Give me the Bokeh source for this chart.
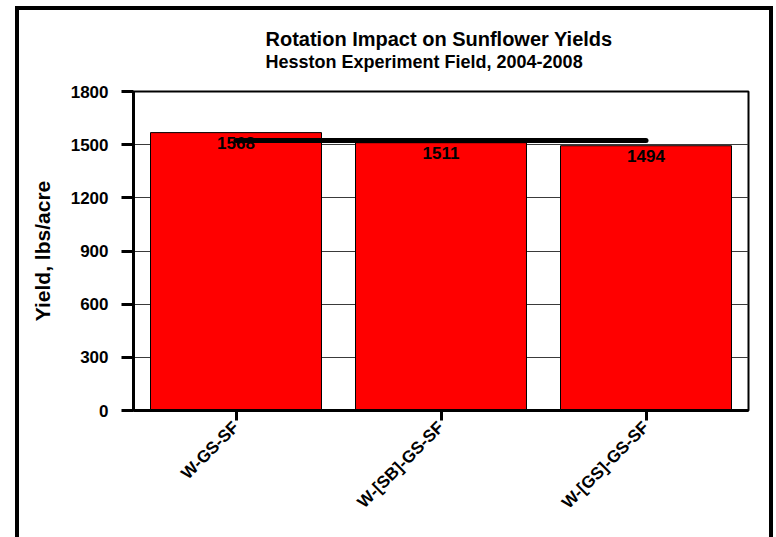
from math import pi

from bokeh.core.properties import value
from bokeh.embed import file_html
from bokeh.models import (ColumnDataSource, FactorRange, FixedTicker, Range1d,
                          Title)
from bokeh.plotting import figure
from bokeh.resources import INLINE

# Sunflower yields by crop rotation, Hesston Experiment Field 2004-2008
rotations = ["W-GS-SF", "W-[SB]-GS-SF", "W-[GS]-GS-SF"]
yields = [1568, 1511, 1494]
yield_labels = ["1568", "1511", "1494"]
avg_yield = 1524
y_ticks = [0, 300, 600, 900, 1200, 1500, 1800]

FONT = "Liberation Sans"

src = ColumnDataSource(dict(rot=rotations, yld=yields, lbl=yield_labels))

# the chart sits inside a heavy black frame (CSS outline around the figure)
p = figure(
    width=750, height=527,
    x_range=FactorRange(*rotations, range_padding=0),
    y_range=Range1d(0, 1800),
    output_backend="svg", toolbar_location=None,
    min_border_left=114, min_border_right=21,
    min_border_top=81, min_border_bottom=127,
    styles={"margin-left": "19px", "margin-top": "10px",
            "outline": "4px solid black"},
)
p.background_fill_color = "white"
p.border_fill_color = "white"
p.outline_line_color = "black"
p.outline_line_width = 2

# title stack above the plot area: spacer, subtitle, then the main title
p.add_layout(Title(text=" ", text_font=FONT, text_font_size="10px",
                   standoff=7), "above")
p.add_layout(Title(text="Hesston Experiment Field, 2004-2008", text_font=FONT,
                   text_font_size="18px", text_font_style="bold",
                   text_color="black", align="left", offset=132,
                   standoff=0), "above")
p.title.text = "Rotation Impact on Sunflower Yields"
p.title.text_font = FONT
p.title.text_font_size = "20px"
p.title.text_font_style = "bold"
p.title.text_color = "black"
p.title.align = "left"
p.title.offset = 132
p.title.standoff = 0

p.xgrid.visible = False
p.ygrid.ticker = FixedTicker(ticks=y_ticks)
p.ygrid.grid_line_color = "#3a3a3a"
p.ygrid.grid_line_width = 1

p.vbar(x="rot", top="yld", width=0.834, source=src,
       fill_color="#FF0000", line_color="black", line_width=1)

p.text(x="rot", y="yld", text="lbl", source=src,
       text_font=value(FONT), text_font_style="bold", text_font_size="17px",
       text_align="center", text_baseline="middle", y_offset=10,
       text_color="black")

# average yield across rotations
p.line(x=[rotations[0], rotations[-1]], y=[avg_yield, avg_yield],
       line_width=5, line_color="black", line_cap="round")

ya = p.yaxis[0]
ya.ticker = FixedTicker(ticks=y_ticks)
ya.axis_label = "Yield, lbs/acre"
ya.axis_label_text_font = FONT
ya.axis_label_text_font_size = "21px"
ya.axis_label_text_font_style = "bold"
ya.axis_label_text_color = "black"
ya.axis_label_standoff = 14
ya.major_label_text_font = FONT
ya.major_label_text_font_size = "17px"
ya.major_label_text_font_style = "bold"
ya.major_label_text_color = "black"
ya.major_label_standoff = 13
ya.axis_line_width = 3
ya.axis_line_color = "black"
ya.major_tick_line_width = 3
ya.major_tick_line_color = "black"
ya.major_tick_out = 12
ya.major_tick_in = 0
ya.minor_tick_out = 0
ya.minor_tick_in = 0

xa = p.xaxis[0]
xa.major_label_orientation = pi / 4
xa.major_label_text_font = FONT
xa.major_label_text_font_size = "17px"
xa.major_label_text_font_style = "bold"
xa.major_label_text_color = "black"
xa.major_label_standoff = 4
xa.axis_line_width = 3
xa.axis_line_color = "black"
xa.major_tick_line_width = 3
xa.major_tick_line_color = "black"
xa.major_tick_out = 10
xa.major_tick_in = 0

open("out.html", "w").write(file_html(p, INLINE))
